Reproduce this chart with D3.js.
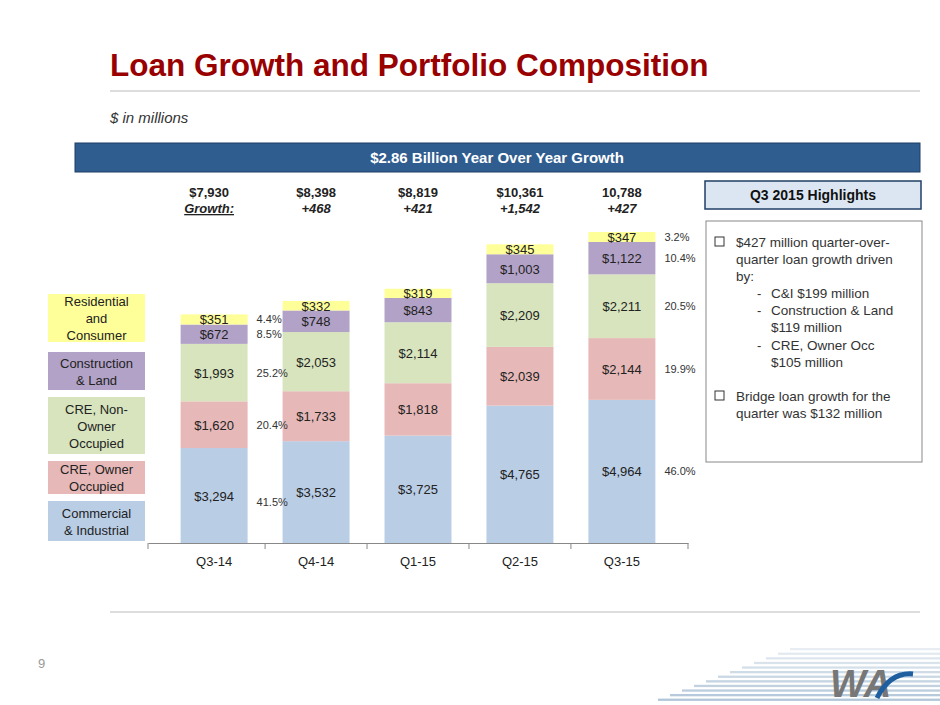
<!DOCTYPE html>
<html><head><meta charset="utf-8">
<script src="https://cdn.jsdelivr.net/npm/d3@7"></script>
<style>body{margin:0;background:#fff}svg{font-family:Arial,"Liberation Sans",sans-serif}</style>
</head><body>
<svg id="c" width="940" height="705"></svg>
<script>
// chart data
var quarters = ["Q3-14", "Q4-14", "Q1-15", "Q2-15", "Q3-15"];
var segments = ["ci", "creOwner", "creNon", "constr", "resid"];
var ci = [3294, 3532, 3725, 4765, 4964];
var creOwner = [1620, 1733, 1818, 2039, 2144];
var creNon = [1993, 2053, 2114, 2209, 2211];
var constr = [672, 748, 843, 1003, 1122];
var resid = [351, 332, 319, 345, 347];
var totals = ["$7,930", "$8,398", "$8,819", "$10,361", "10,788"];
var growth = ["Growth:", "+468", "+421", "+1,542", "+427"];
var pctFirst = ["41.5%", "20.4%", "25.2%", "8.5%", "4.4%"];
var pctLast = ["46.0%", "19.9%", "20.5%", "10.4%", "3.2%"];
var legendNames = [["Commercial", "& Industrial"], ["CRE, Owner", "Occupied"], ["CRE, Non-", "Owner", "Occupied"], ["Construction", "& Land"], ["Residential", "and", "Consumer"]];
var colors = ["#b9cde5", "#e6b9b8", "#d7e4bd", "#b3a2c7", "#ffff99"];

var svg = d3.select("#c");
var series = {ci: ci, creOwner: creOwner, creNon: creNon, constr: constr, resid: resid};
var rows = quarters.map(function(q, i) {
  var r = {q: q};
  segments.forEach(function(s) { r[s] = series[s][i]; });
  return r;
});
var stack = d3.stack().keys(segments)(rows);

var x = d3.scaleBand().domain(quarters).range([148, 688]).paddingInner(0.343).paddingOuter(0.32);
var y = d3.scaleLinear().domain([0, 10788]).range([543, 232]);
var fmt = d3.format("$,");

// title
svg.append("text").attr("x", 110).attr("y", 76).attr("fill", "#990000")
  .style("font-size", "31.5px").style("font-weight", "bold").text("Loan Growth and Portfolio Composition");
svg.append("line").attr("x1", 110).attr("x2", 920).attr("y1", 91).attr("y2", 91).attr("stroke", "#bbb");
svg.append("text").attr("x", 110).attr("y", 123).style("font-size", "15px").style("font-style", "italic")
  .attr("fill", "#333").text("$ in millions");

// banner
svg.append("rect").attr("x", 75).attr("y", 143).attr("width", 845).attr("height", 29)
  .attr("fill", "#2f5d8f").attr("stroke", "#1f3f66");
svg.append("text").attr("x", 497).attr("y", 163).attr("text-anchor", "middle").attr("fill", "#fff")
  .style("font-size", "15px").style("font-weight", "bold").text("$2.86 Billion Year Over Year Growth");

// totals and growth
quarters.forEach(function(q, i) {
  var cx = x(q) + x.bandwidth() / 2 + (i == 0 ? -5 : 0);
  svg.append("text").attr("x", cx).attr("y", 197).attr("text-anchor", "middle")
    .style("font-size", "13px").style("font-weight", "bold").attr("fill", "#222").text(totals[i]);
  var g = svg.append("text").attr("x", cx).attr("y", 213).attr("text-anchor", "middle")
    .style("font-size", "13px").style("font-weight", "bold").style("font-style", "italic").attr("fill", "#222").text(growth[i]);
  if (i == 0) g.style("text-decoration", "underline");
});

// bars
stack.forEach(function(layer, k) {
  var g = svg.append("g");
  g.selectAll("rect").data(layer).enter().append("rect")
    .attr("x", function(d) { return x(d.data.q); })
    .attr("width", x.bandwidth())
    .attr("y", function(d) { return y(d[1]); })
    .attr("height", function(d) { return y(d[0]) - y(d[1]); })
    .attr("fill", colors[k]);
  g.selectAll("text").data(layer).enter().append("text")
    .attr("x", function(d) { return x(d.data.q) + x.bandwidth() / 2; })
    .attr("y", function(d) { return (y(d[0]) + y(d[1])) / 2 + 5; })
    .attr("text-anchor", "middle").style("font-size", "13px").attr("fill", "#222")
    .text(function(d) { return fmt(d[1] - d[0]); });
});

// percentages
[[0, pctFirst, 0], [4, pctLast, 0]].forEach(function(p) {
  stack.forEach(function(layer, k) {
    var d = layer[p[0]];
    svg.append("text").attr("x", x(quarters[p[0]]) + x.bandwidth() + 9 + p[2])
      .attr("y", (y(d[0]) + y(d[1])) / 2 + (p[0] == 0 && k == 0 ? 10 : 4))
      .style("font-size", "11px").attr("fill", "#333").text(p[1][k]);
  });
});

// axis
var ax = svg.append("g").attr("transform", "translate(0,543)")
  .call(d3.axisBottom(x).tickSize(0).tickPadding(14));
ax.select(".domain").attr("stroke", "#888");
ax.selectAll("text").style("font-size", "13px").attr("fill", "#222");
var bounds = [148].concat(quarters.map(function(q) { return x(q) + x.bandwidth() + x.step() * 0.343 / 2; }));
bounds[5] = 688;
bounds.forEach(function(b) {
  svg.append("line").attr("x1", b).attr("x2", b).attr("y1", 543).attr("y2", 549).attr("stroke", "#888");
});

// legend boxes
var legY = [[501, 541], [461, 494], [397, 454], [352, 390], [294, 342]];
legendNames.forEach(function(n, k) {
  var y0 = legY[k][0], h = legY[k][1] - legY[k][0];
  svg.append("rect").attr("x", 48).attr("y", y0).attr("width", 97).attr("height", h).attr("fill", colors[k]);
  n.forEach(function(t, j) {
    svg.append("text").attr("x", 96.5).attr("y", y0 + h / 2 + 5 + (j - (n.length - 1) / 2) * 17)
      .attr("text-anchor", "middle").style("font-size", "13px").attr("fill", "#222").text(t);
  });
});

// highlights
svg.append("rect").attr("x", 705).attr("y", 181).attr("width", 216).attr("height", 28)
  .attr("fill", "#dce6f2").attr("stroke", "#1f3f66").attr("stroke-width", 1.5);
svg.append("text").attr("x", 813).attr("y", 200).attr("text-anchor", "middle")
  .style("font-size", "14px").style("font-weight", "bold").attr("fill", "#111").text("Q3 2015 Highlights");
svg.append("rect").attr("x", 706).attr("y", 221).attr("width", 216).attr("height", 241)
  .attr("fill", "#fff").attr("stroke", "#888");
var hl = [[736, 247, "$427 million quarter-over-", 1], [736, 264, "quarter loan growth driven"], [736, 281, "by:"],
  [771, 298, "C&I $199 million", 2], [771, 315, "Construction & Land", 2], [771, 332, "$119 million"],
  [771, 350, "CRE, Owner Occ", 2], [771, 367, "$105 million"],
  [736, 401, "Bridge loan growth for the", 1], [736, 418, "quarter was $132 million"]];
hl.forEach(function(h) {
  svg.append("text").attr("x", h[0]).attr("y", h[1]).style("font-size", "13.5px").attr("fill", "#333").text(h[2]);
  if (h[3] == 1) svg.append("rect").attr("x", 715).attr("y", h[1] - 10).attr("width", 9).attr("height", 9)
    .attr("fill", "none").attr("stroke", "#333");
  if (h[3] == 2) svg.append("text").attr("x", 757).attr("y", h[1]).style("font-size", "13px").attr("fill", "#333").text("-");
});

// footer
svg.append("line").attr("x1", 110).attr("x2", 920).attr("y1", 612).attr("y2", 612).attr("stroke", "#bbb");
svg.append("text").attr("x", 38).attr("y", 668).style("font-size", "13px").attr("fill", "#999").text("9");
for (var i = 0; i < 12; i++) {
  svg.append("rect").attr("x", 790 - i * 12).attr("y", 648 + i * 4.6).attr("width", 150 + i * 12).attr("height", 2.3)
    .attr("fill", "#9fb8d0").attr("opacity", 0.25 + i * 0.05);
}
svg.append("text").attr("x", 830).attr("y", 697).style("font-size", "38px").style("font-weight", "bold")
  .style("font-style", "italic").attr("fill", "#777").text("WA");
svg.append("path").attr("d", "M877,698 Q890,672 913,674").attr("fill", "none").attr("stroke", "#1f5fa0").attr("stroke-width", 5);
</script>
</body></html>
